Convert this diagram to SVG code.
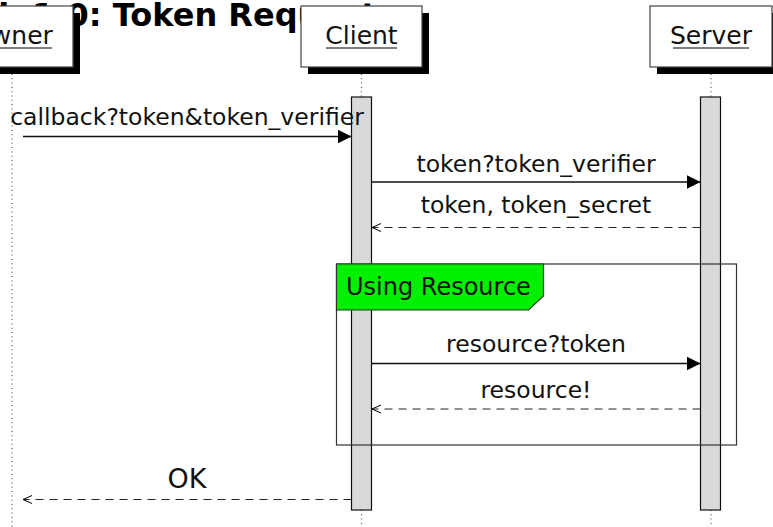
<svg xmlns="http://www.w3.org/2000/svg" width="773" height="527" viewBox="0 0 773 527">
  <defs>
    <marker id="solidHead" markerWidth="14" markerHeight="14" refX="14" refY="7" orient="auto" markerUnits="userSpaceOnUse">
      <path d="M0,0 L14,7 L0,14 Z" fill="#000"/>
    </marker>
    <marker id="openHead" markerWidth="10" markerHeight="10" refX="9" refY="4.5" orient="auto" markerUnits="userSpaceOnUse">
      <path d="M0,0.5 L9,4.5 L0,8.5" fill="none" stroke="#000" stroke-width="1"/>
    </marker>
  </defs>
  <style>
    .title { font-family: "DejaVu Sans", sans-serif; font-weight: bold; font-size: 32px; fill: #000; }
    .actor-box { fill: #fff; stroke: #444; stroke-width: 1.2; }
    .actor-shadow { fill: #000; }
    .actor-label { font-family: "DejaVu Sans", sans-serif; font-size: 25px; fill: #111; text-anchor: middle; }
    .underline { stroke: #555; stroke-width: 1.4; }
    .lifeline { stroke: #555; stroke-width: 1.2; stroke-dasharray: 1 3.3; fill: none; }
    .bar { fill: #d9d9d9; stroke: #111; stroke-width: 1.2; }
    .msg { font-family: "DejaVu Sans", sans-serif; font-size: 23.5px; fill: #111; text-anchor: middle; }
    .call { stroke: #111; stroke-width: 1.3; fill: none; marker-end: url(#solidHead); }
    .reply { stroke: #222; stroke-width: 1.1; fill: none; stroke-dasharray: 8 6; marker-end: url(#openHead); }
    .frame { fill: none; stroke: #333; stroke-width: 1.2; }
    .frame-tag { fill: #00f000; stroke: #333; stroke-width: 1.2; }
    .frame-label { font-family: "DejaVu Sans", sans-serif; font-size: 24px; fill: #111; }
  </style>

  <rect width="773" height="527" fill="#fff"/>

  <!-- title sits behind the participant heads -->
  <text class="title" x="-91" y="26">OAuth 1.0: Token Request</text>

  <!-- lifelines -->
  <g id="lifelines">
    <line class="lifeline" x1="12" y1="74" x2="12" y2="527"/>
    <line class="lifeline" x1="361.5" y1="74" x2="361.5" y2="97"/>
    <line class="lifeline" x1="361.5" y1="510" x2="361.5" y2="527"/>
    <line class="lifeline" x1="711" y1="74" x2="711" y2="97"/>
    <line class="lifeline" x1="711" y1="510" x2="711" y2="527"/>
  </g>

  <!-- participants -->
  <g id="owner">
    <rect class="actor-shadow" x="-42" y="13" width="122" height="61"/>
    <rect class="actor-box" x="-49" y="6" width="122" height="61"/>
    <text class="actor-label" x="12" y="44">Owner</text>
    <line class="underline" x1="-28" y1="48" x2="52" y2="48"/>
  </g>
  <g id="client">
    <rect class="actor-shadow" x="308" y="13" width="121" height="61"/>
    <rect class="actor-box" x="301" y="6" width="121" height="61"/>
    <text class="actor-label" x="361.5" y="44">Client</text>
    <line class="underline" x1="326" y1="48" x2="397" y2="48"/>
  </g>
  <g id="server">
    <rect class="actor-shadow" x="657" y="13" width="122" height="61"/>
    <rect class="actor-box" x="650" y="6" width="122" height="61"/>
    <text class="actor-label" x="711" y="44">Server</text>
    <line class="underline" x1="673" y1="48" x2="749" y2="48"/>
  </g>

  <!-- activations -->
  <g id="client-activation">
    <rect class="bar" x="351.5" y="97" width="20" height="413"/>
  </g>
  <g id="server-activation">
    <rect class="bar" x="700.5" y="97" width="20" height="413"/>
  </g>

  <!-- combined fragment -->
  <g id="using-resource">
    <rect class="frame" x="336.5" y="264" width="400" height="181"/>
    <path class="frame-tag" d="M336.5,264 H543.5 V296 L528.5,310 H336.5 Z"/>
    <text class="frame-label" x="346" y="295">Using Resource</text>
  </g>

  <!-- messages -->
  <g id="connectors">
    <line class="call" x1="23" y1="136.5" x2="351.5" y2="136.5"/>
    <line class="call" x1="371.5" y1="182" x2="700.5" y2="182"/>
    <line class="reply" x1="700.5" y1="227.5" x2="372" y2="227.5"/>
    <line class="call" x1="371.5" y1="363.5" x2="700.5" y2="363.5"/>
    <line class="reply" x1="700.5" y1="409" x2="372" y2="409"/>
    <line class="reply" x1="351.5" y1="499.5" x2="23" y2="499.5"/>
  </g>
  <g id="message-labels">
    <text class="msg" x="187" y="125">callback?token&amp;token_verifier</text>
    <text class="msg" x="536" y="172">token?token_verifier</text>
    <text class="msg" x="536" y="213">token, token_secret</text>
    <text class="msg" x="536" y="352">resource?token</text>
    <text class="msg" x="536" y="398">resource!</text>
    <text class="msg" x="187" y="488" style="font-size:27px">OK</text>
  </g>
</svg>
